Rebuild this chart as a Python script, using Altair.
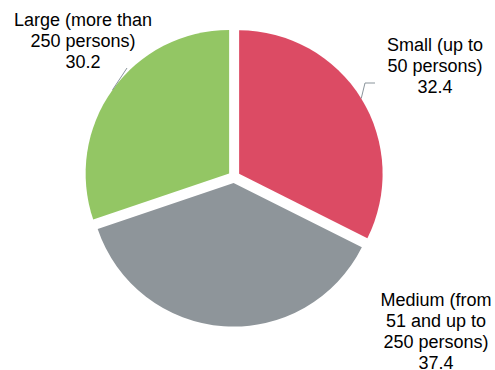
import altair as alt
import pandas as pd

# ---- data ----
categories = [
    "Small (up to 50 persons)",
    "Medium (from 51 and up to 250 persons)",
    "Large (more than 250 persons)",
]
label_lines = [
    ["Small (up to", "50 persons)"],
    ["Medium (from", "51 and up to", "250 persons)"],
    ["Large (more than", "250 persons)"],
]
values = [32.4, 37.4, 30.2]

# ---- style / layout ----
colors = ["#DC4B64", "#8E959A", "#93C664"]
CX, CY, R, EXPLODE = 234, 177, 143.5, 6
label_x = [435, 436, 83]
label_y = [51, 305.5, 25.7]
elbow_x = [365, None, 127]
elbow_y = [83, None, 68]
tail_x = [375, None, None]
FONT = "Liberation Sans"
LEADER = "#8A949B"

rows = []
for i, c in enumerate(categories):
    rows.append({
        "category": c,
        "value": values[i],
        "order": i,
        "text": "\n".join(label_lines[i] + [f"{values[i]:.1f}"]),
        "lx": label_x[i],
        "ly": label_y[i],
        "elbx": elbow_x[i],
        "elby": elbow_y[i],
        "tailx": tail_x[i],
    })
df = pd.DataFrame(rows)

base = alt.Chart(df).transform_window(
    cum="sum(value)", sort=[alt.SortField("order")], frame=[None, 0]
).transform_joinaggregate(
    total="sum(value)"
).transform_calculate(
    a0="(datum.cum - datum.value) / datum.total * 2 * PI",
    a1="datum.cum / datum.total * 2 * PI",
).transform_calculate(
    mid="(datum.a0 + datum.a1) / 2"
).transform_calculate(
    px=f"{CX} + {EXPLODE} * sin(datum.mid)",
    py=f"{CY} - {EXPLODE} * cos(datum.mid)",
).transform_calculate(
    ex=f"datum.px + {R} * sin(datum.mid)",
    ey=f"datum.py - {R} * cos(datum.mid)",
)

arcs = base.mark_arc(radius=R).encode(
    theta=alt.Theta("a0:Q", scale=None),
    theta2=alt.Theta2("a1:Q"),
    x=alt.X("px:Q", scale=None),
    y=alt.Y("py:Q", scale=None),
    color=alt.Color("category:N", scale=alt.Scale(domain=categories, range=colors), legend=None),
)

leaders = base.transform_filter("isValid(datum.elbx)").mark_rule(
    color=LEADER, strokeWidth=1
).encode(
    x=alt.X("ex:Q", scale=None),
    y=alt.Y("ey:Q", scale=None),
    x2="elbx:Q",
    y2="elby:Q",
)

tails = base.transform_filter("isValid(datum.tailx)").mark_rule(
    color=LEADER, strokeWidth=1
).encode(
    x=alt.X("elbx:Q", scale=None),
    y=alt.Y("elby:Q", scale=None),
    x2="tailx:Q",
    y2="elby:Q",
)

labels = alt.Chart(df).mark_text(
    font=FONT, fontSize=18, lineHeight=21, align="center", baseline="alphabetic",
    lineBreak="\n", color="#000000"
).encode(
    x=alt.X("lx:Q", scale=None),
    y=alt.Y("ly:Q", scale=None),
    text="text:N",
)

chart = alt.layer(arcs, leaders, tails, labels).properties(
    width=495, height=370, autosize=alt.AutoSizeParams(type="none"), padding=0
).configure_view(stroke=None)

chart.save("out.html", embed_options={"renderer": "svg", "actions": False})
